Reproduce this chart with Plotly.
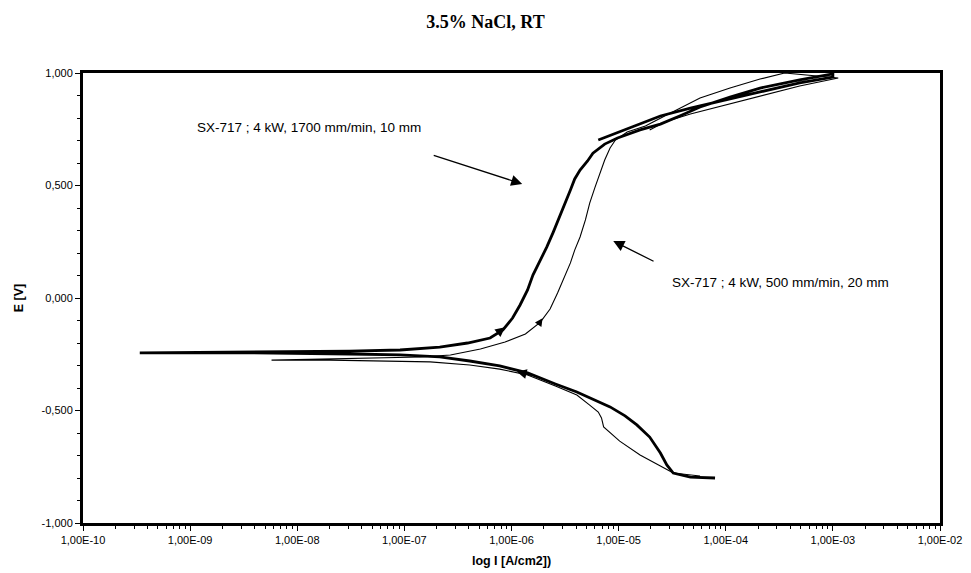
import plotly.graph_objects as go

# Thick curve: SX-717 ; 4 kW, 1700 mm/min, 10 mm  (log10 I [A/cm2], E [V])
thick_logI = [-4.10, -4.33, -4.49, -4.55, -4.61, -4.71, -4.83, -4.94, -5.08, -5.22, -5.39, -5.59,
              -5.85, -6.11, -6.39, -6.67, -7.04, -7.51, -8.44, -9.47,
              -8.44, -7.51, -7.04, -6.67, -6.41, -6.20, -6.08, -5.99, -5.92, -5.85, -5.80, -5.73,
              -5.67, -5.61, -5.55, -5.50, -5.45, -5.41, -5.36, -5.29, -5.24, -5.13, -5.01, -4.80,
              -4.61, -4.43, -4.24, -3.96, -3.68, -3.31, -3.00,
              -3.00, -3.31, -3.68, -4.05, -4.33, -4.61, -4.89, -5.19]
thick_E = [-0.800, -0.796, -0.778, -0.742, -0.689, -0.618, -0.564, -0.524, -0.484, -0.453, -0.418, -0.382,
           -0.333, -0.302, -0.280, -0.262, -0.253, -0.249, -0.244, -0.244,
           -0.240, -0.236, -0.231, -0.218, -0.200, -0.178, -0.142, -0.089, -0.031, 0.036, 0.102, 0.169,
           0.227, 0.293, 0.360, 0.422, 0.480, 0.529, 0.569, 0.609, 0.644, 0.684, 0.711, 0.747,
           0.773, 0.809, 0.849, 0.893, 0.933, 0.969, 0.996,
           0.982, 0.956, 0.916, 0.876, 0.844, 0.809, 0.756, 0.702]

# Thin curve: SX-717 ; 4 kW, 500 mm/min, 20 mm
thin_logI = [-4.24, -4.49, -4.61, -4.80, -4.99, -5.11, -5.14, -5.16, -5.19, -5.27, -5.39, -5.59,
             -5.85, -6.11, -6.39, -6.76, -7.23, -7.69, -8.24,
             -7.69, -7.23, -6.85, -6.57, -6.29, -6.06, -5.87, -5.73, -5.64, -5.57, -5.51, -5.45,
             -5.41, -5.36, -5.31, -5.27, -5.22, -5.17, -5.13, -5.08, -5.03, -4.92, -4.75, -4.57,
             -4.40, -4.24, -3.96, -3.68, -3.45,
             -2.95, -3.31, -3.68, -4.05, -4.33, -4.57, -4.71]
thin_E = [-0.791, -0.778, -0.747, -0.698, -0.636, -0.587, -0.573, -0.533, -0.507, -0.476, -0.431, -0.391,
          -0.342, -0.316, -0.298, -0.284, -0.280, -0.276, -0.276,
          -0.271, -0.267, -0.262, -0.253, -0.227, -0.196, -0.160, -0.107, -0.049, 0.022, 0.093, 0.156,
          0.213, 0.271, 0.347, 0.422, 0.493, 0.560, 0.613, 0.667, 0.702, 0.738, 0.764, 0.809,
          0.849, 0.889, 0.933, 0.973, 1.000,
          0.978, 0.942, 0.898, 0.853, 0.818, 0.782, 0.747]

x_tick_exp = [-10, -9, -8, -7, -6, -5, -4, -3, -2]
x_tick_text = ["1,00E-10", "1,00E-09", "1,00E-08", "1,00E-07", "1,00E-06",
               "1,00E-05", "1,00E-04", "1,00E-03", "1,00E-02"]
y_tick_vals = [-1.0, -0.5, 0.0, 0.5, 1.0]
y_tick_text = ["-1,000", "-0,500", "0,000", "0,500", "1,000"]

label_thick = "SX-717 ; 4 kW, 1700 mm/min, 10 mm"
label_thin = "SX-717 ; 4 kW, 500 mm/min, 20 mm"

fig = go.Figure()
fig.add_trace(go.Scatter(x=[10 ** v for v in thin_logI], y=thin_E, mode="lines",
                         line=dict(color="black", width=1.1), name=label_thin, showlegend=False))
fig.add_trace(go.Scatter(x=[10 ** v for v in thick_logI], y=thick_E, mode="lines",
                         line=dict(color="black", width=2.8), name=label_thick, showlegend=False))

ann_font = dict(family="Liberation Sans, Arial, sans-serif", size=13.5, color="black")
annotations = [
    dict(x=-8.955, y=0.76, xref="x", yref="y", text=label_thick, showarrow=False,
         xanchor="left", yanchor="middle", font=ann_font),
    dict(x=-4.52, y=0.067, xref="x", yref="y", text=label_thin, showarrow=False,
         xanchor="left", yanchor="middle", font=ann_font),
    dict(x=-5.90, y=0.507, ax=-6.74, ay=0.636, xref="x", yref="y", axref="x", ayref="y",
         text="", showarrow=True, arrowhead=2, arrowsize=1.7, arrowwidth=1.3, arrowcolor="black"),
    dict(x=-5.05, y=0.253, ax=-4.66, ay=0.16, xref="x", yref="y", axref="x", ayref="y",
         text="", showarrow=True, arrowhead=2, arrowsize=1.7, arrowwidth=1.3, arrowcolor="black"),
    # small direction arrowheads on the curves
    dict(x=-6.06, y=-0.13, ax=-6.14, ay=-0.16, xref="x", yref="y", axref="x", ayref="y",
         text="", showarrow=True, arrowhead=2, arrowsize=1.3, arrowwidth=1.5, arrowcolor="black"),
    dict(x=-5.71, y=-0.09, ax=-5.76, ay=-0.125, xref="x", yref="y", axref="x", ayref="y",
         text="", showarrow=True, arrowhead=2, arrowsize=1.3, arrowwidth=1.2, arrowcolor="black"),
    dict(x=-5.95, y=-0.328, ax=-5.80, ay=-0.345, xref="x", yref="y", axref="x", ayref="y",
         text="", showarrow=True, arrowhead=2, arrowsize=1.3, arrowwidth=1.5, arrowcolor="black"),
]

tick_font = dict(family="Liberation Sans, Arial, sans-serif", size=11, color="black")
axis_title_font = dict(family="Liberation Sans, Arial, sans-serif", size=12.5, color="black")
fig.update_layout(
    width=971, height=573,
    paper_bgcolor="white", plot_bgcolor="white",
    margin=dict(l=83, r=31, t=73, b=50),
    title=dict(text="<b>3.5% NaCl, RT</b>", x=0.5, xanchor="center", y=0.963, yanchor="middle",
               font=dict(family="Liberation Serif, Times New Roman, serif", size=18, color="black")),
    annotations=annotations,
    xaxis=dict(type="log", range=[-10, -2], tickvals=[10 ** e for e in x_tick_exp], ticktext=x_tick_text,
               automargin=False,
               showgrid=False, zeroline=False, showline=True, linecolor="black", linewidth=3, mirror=True,
               ticks="outside", ticklen=5, tickwidth=1, tickcolor="black", tickfont=tick_font,
               minor=dict(dtick="D1", ticks="outside", ticklen=3, tickwidth=1, tickcolor="black", showgrid=False),
               title=dict(text="<b>log I [A/cm2])</b>", font=axis_title_font, standoff=12)),
    yaxis=dict(range=[-1.0, 1.0], tickvals=y_tick_vals, ticktext=y_tick_text,
               automargin=False,
               showgrid=False, zeroline=False, showline=True, linecolor="black", linewidth=3, mirror=True,
               ticks="outside", ticklen=5, tickwidth=1, tickcolor="black", tickfont=tick_font,
               minor=dict(dtick=0.1, ticks="outside", ticklen=3, tickwidth=1, tickcolor="black", showgrid=False),
               title=dict(text="<b>E [V]</b>", font=axis_title_font, standoff=16)),
)

fig.write_html("out.html")
